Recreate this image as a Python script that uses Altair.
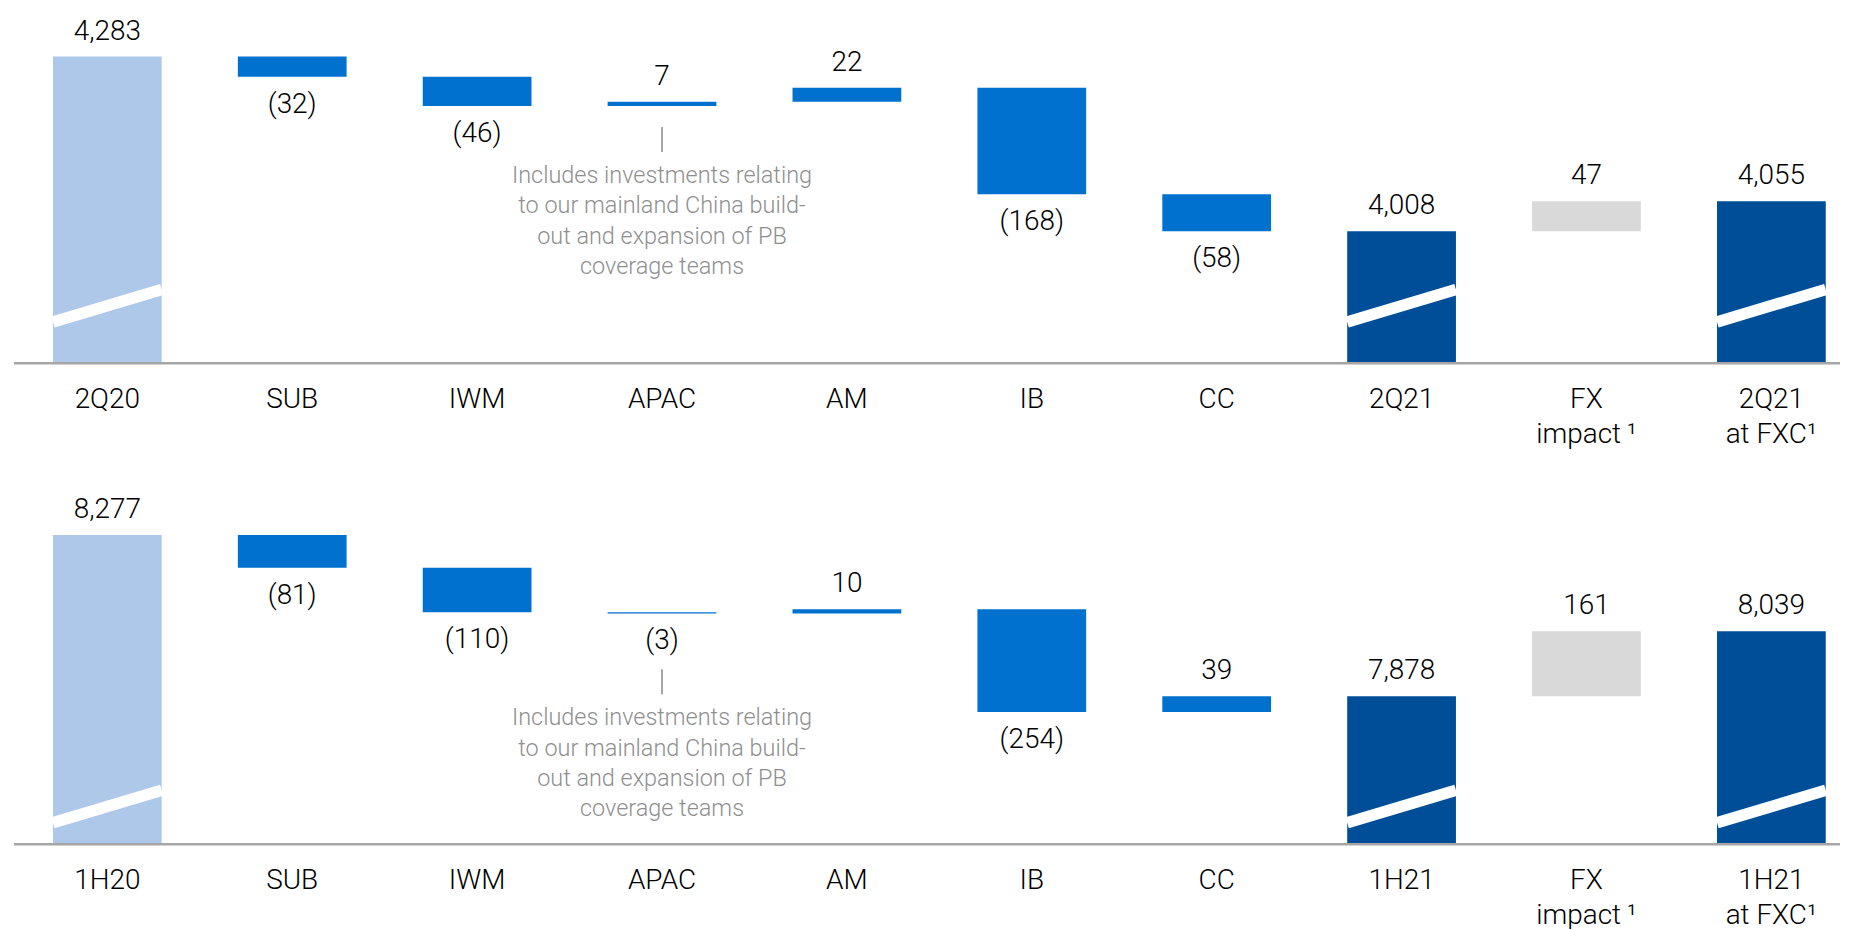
import altair as alt
import pandas as pd

# ---------------- data ----------------
top_categories = ["2Q20", "SUB", "IWM", "APAC", "AM", "IB", "CC", "2Q21",
                  "FX\nimpact\u2009\u00b9", "2Q21\nat FXC\u00b9"]
top_values = [4283, -32, -46, 7, 22, -168, -58, 4008, 47, 4055]

bottom_categories = ["1H20", "SUB", "IWM", "APAC", "AM", "IB", "CC", "1H21",
                     "FX\nimpact\u2009\u00b9", "1H21\nat FXC\u00b9"]
bottom_values = [8277, -81, -110, -3, 10, -254, 39, 7878, 161, 8039]

bar_kinds = ["start", "delta", "delta", "delta", "delta", "delta", "delta",
             "end", "fx", "end"]

note_category = "APAC"
note_lines = ["Includes investments relating",
              "to our mainland China build-",
              "out and expansion of PB",
              "coverage teams"]

# broken-axis floors (value at the baseline) and visible y-domains
top_floor = 3800
top_domain = [3643, 4350]
bottom_floor = 7512
bottom_domain = [7290, 8455]

# ---------------- style ----------------
FONT = "Roboto"
WEIGHT = 300
KIND_DOMAIN = ["start", "delta", "end", "fx"]
KIND_COLORS = ["#AEC8EA", "#0071CE", "#004E98", "#D9D9D9"]
AXIS_GREY = "#A6A6A6"
NOTE_GREY = "#8F8F8F"
WIDTH = 1830


def waterfall_table(cats, vals, kinds, floor):
    rows = []
    running = 0
    for c, v, k in zip(cats, vals, kinds):
        if k in ("start", "end"):
            lo, hi = floor, v
            running = v
        else:
            lo, hi = running, running + v
            running = running + v
        label = f"({-v:,})" if v < 0 else f"{v:,}"
        rows.append(dict(cat=c, kind=k, v=v, y0=min(lo, hi), y1=max(lo, hi),
                         label=label, floor=floor))
    return pd.DataFrame(rows)


def panel(cats, vals, floor, ydom, height, stripe, conn, note_dy):
    df = waterfall_table(cats, vals, bar_kinds, floor)
    xs = alt.Scale(domain=cats, paddingInner=0.4118, paddingOuter=0.1439,
                   align=0.732, round=False)
    ys = alt.Scale(domain=ydom, nice=False, zero=False)
    x = alt.X("cat:N", sort=cats, scale=xs, axis=None)
    base = alt.Chart(df)

    bars = base.mark_bar().encode(
        x=x,
        y=alt.Y("y0:Q", scale=ys, axis=None),
        y2="y1:Q",
        color=alt.Color("kind:N", scale=alt.Scale(domain=KIND_DOMAIN, range=KIND_COLORS),
                        legend=None),
    )

    stripes = base.transform_filter(
        "datum.kind == 'start' || datum.kind == 'end'"
    ).mark_rule(color="white", strokeWidth=11.5, strokeCap="butt",
                yOffset=-stripe[0], y2Offset=-stripe[1]).encode(
        x=alt.X("cat:N", sort=cats, scale=xs, axis=None, bandPosition=0),
        x2=alt.X2("cat", bandPosition=1),
        y=alt.Y("floor:Q", scale=ys, axis=None),
        y2="floor:Q",
    )

    baseline = alt.Chart(pd.DataFrame({"floor": [floor]})).mark_rule(
        color=AXIS_GREY, strokeWidth=2.5
    ).encode(y=alt.Y("floor:Q", scale=ys, axis=None))

    up_labels = base.transform_filter("datum.v >= 0").mark_text(
        font=FONT, fontWeight=WEIGHT, fontSize=28, color="#000000",
        baseline="alphabetic", dy=-17
    ).encode(x=x, y=alt.Y("y1:Q", scale=ys, axis=None), text="label:N")

    down_labels = base.transform_filter("datum.v < 0").mark_text(
        font=FONT, fontWeight=WEIGHT, fontSize=28, color="#000000",
        baseline="alphabetic", dy=36
    ).encode(x=x, y=alt.Y("y0:Q", scale=ys, axis=None), text="label:N")

    cat_labels = base.mark_text(
        font=FONT, fontWeight=WEIGHT, fontSize=28, color="#000000",
        baseline="alphabetic", dy=45, lineBreak="\n", lineHeight=35
    ).encode(x=x, y=alt.Y("floor:Q", scale=ys, axis=None), text="cat:N")

    note_df = df[df["cat"] == note_category].copy()
    note_df["note"] = "\n".join(note_lines)
    note_base = alt.Chart(note_df)
    connector = note_base.mark_rule(
        color=AXIS_GREY, strokeWidth=2, yOffset=conn[0], y2Offset=conn[1]
    ).encode(x=x, y=alt.Y("y0:Q", scale=ys, axis=None), y2="y0:Q")
    note = note_base.mark_text(
        font=FONT, fontWeight=WEIGHT, fontSize=23.5, color=NOTE_GREY,
        baseline="alphabetic", align="center", dy=note_dy,
        lineBreak="\n", lineHeight=30.5
    ).encode(x=x, y=alt.Y("y0:Q", scale=ys, axis=None), text="note:N")

    return alt.layer(
        bars, stripes, baseline, up_labels, down_labels, cat_labels, connector, note
    ).properties(width=WIDTH, height=height)


top = panel(top_categories, top_values, top_floor, top_domain, 450,
            stripe=(41.5, 74), conn=(21, 46), note_dy=77)
bottom = panel(bottom_categories, bottom_values, bottom_floor, bottom_domain, 472,
               stripe=(21.5, 54), conn=(56, 81), note_dy=112)

chart = alt.vconcat(top, bottom, spacing=0).properties(
    padding={"left": 4, "top": 5, "right": 0, "bottom": 0}
).configure_view(stroke=None)

chart.save("out.html", embed_options={"renderer": "svg", "actions": False})
